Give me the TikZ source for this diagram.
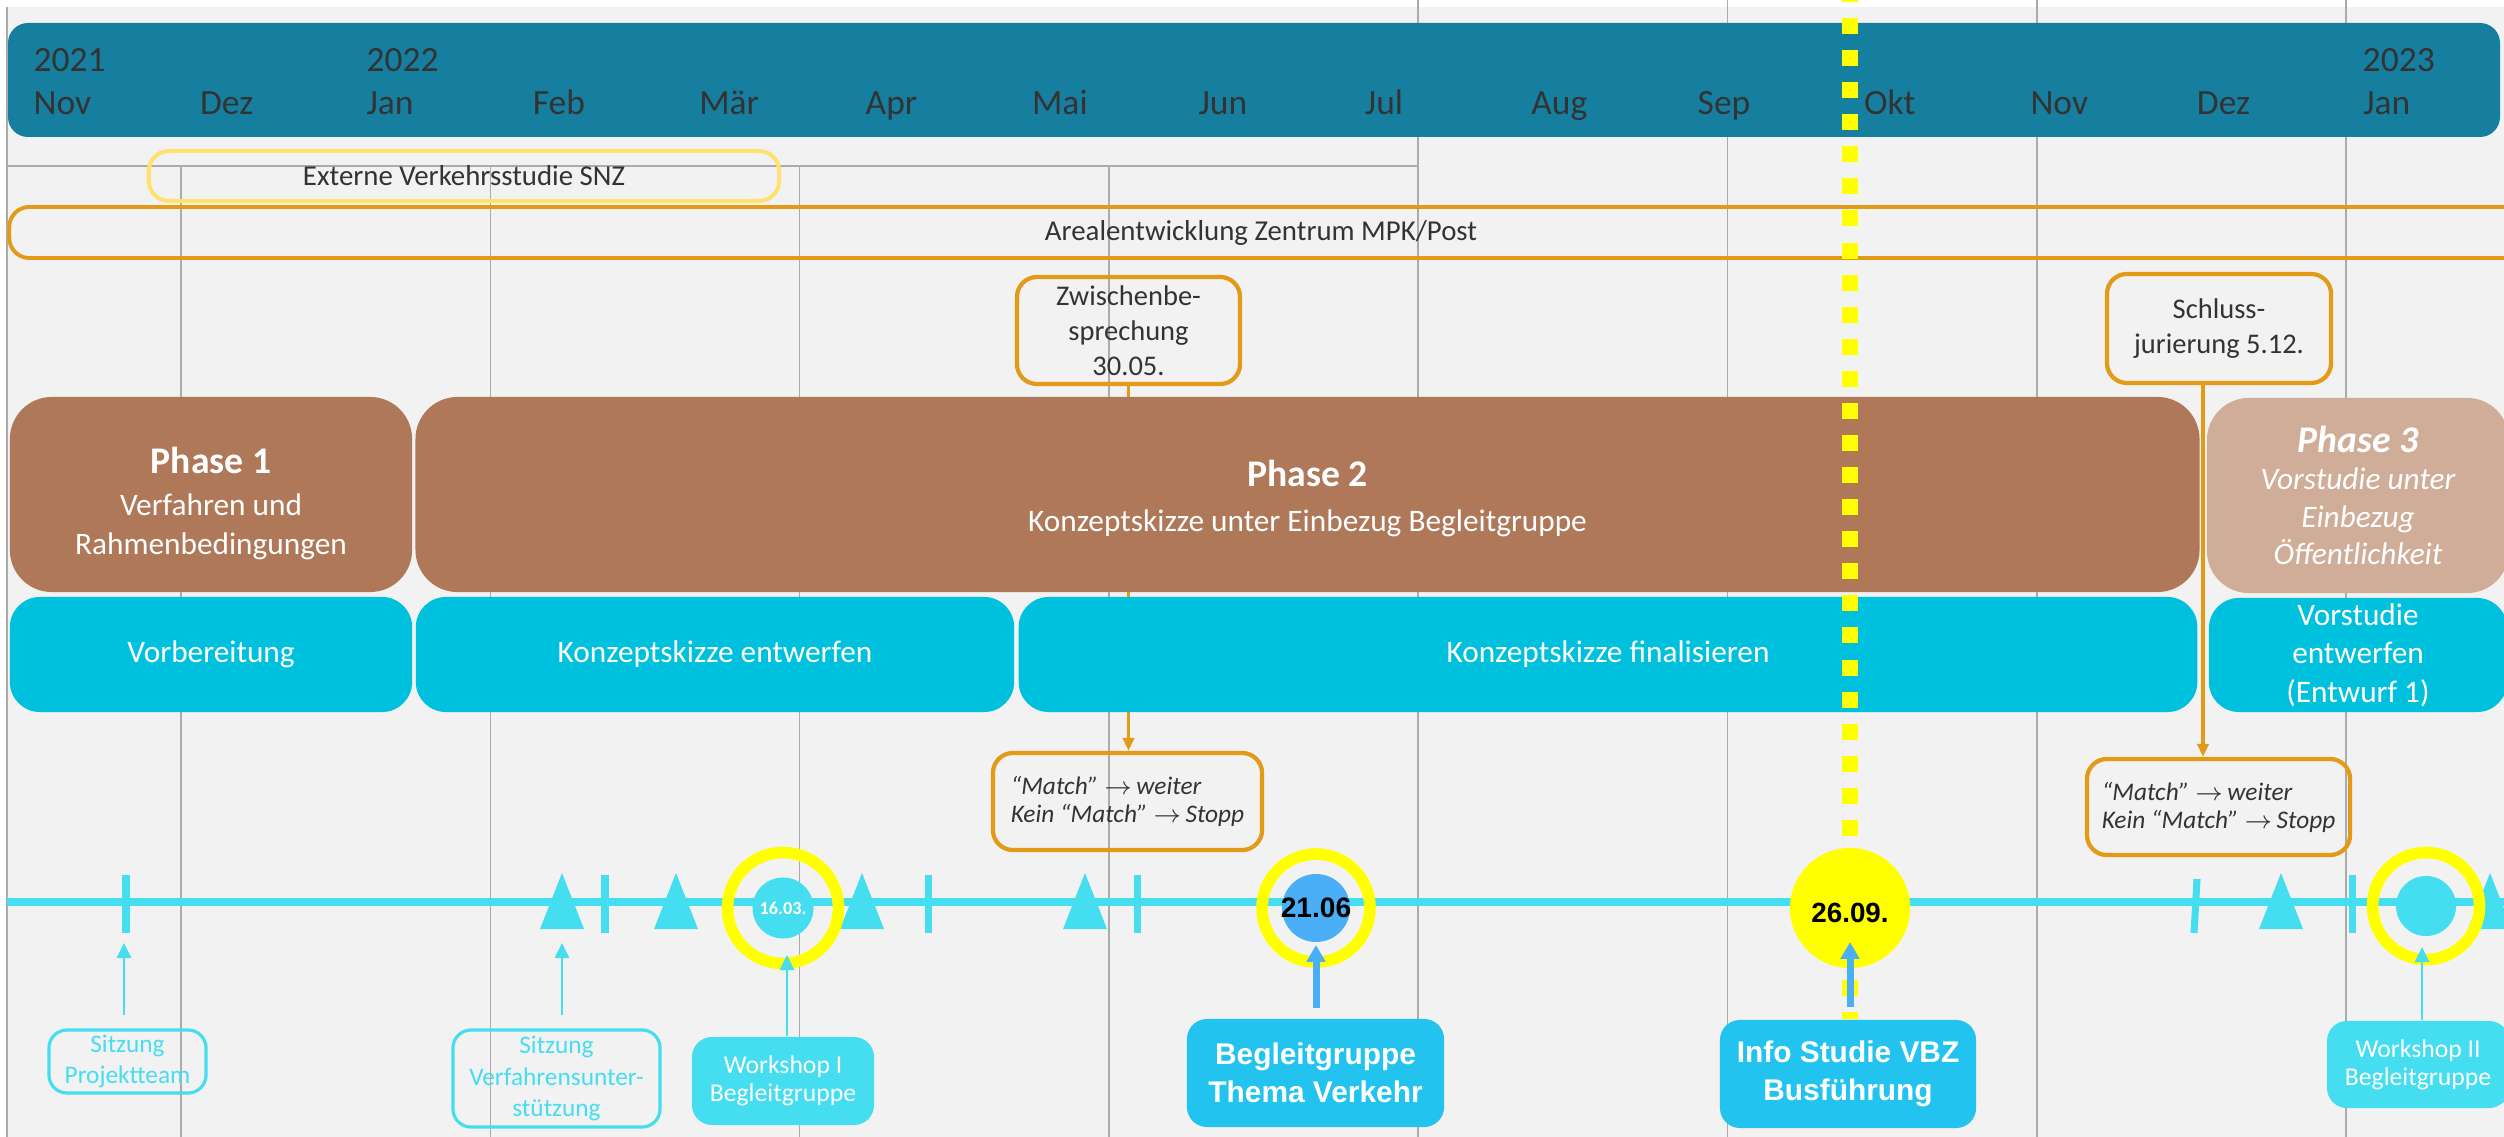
\documentclass[tikz,border=0pt]{standalone}
\usepackage{fontspec}
\setmainfont{Carlito}
\newfontfamily\arialfont{Liberation Sans}
\usetikzlibrary{arrows.meta, positioning}
\definecolor{bgGray}{HTML}{F2F2F2}
\definecolor{gridGray}{HTML}{ABABAB}
\definecolor{headTeal}{HTML}{167FA0}
\definecolor{headText}{HTML}{333333}
\definecolor{studyYellow}{HTML}{FFE26B}
\definecolor{noteOrange}{HTML}{E39A17}
\definecolor{phaseBrown}{HTML}{AE7859}
\definecolor{phaseLight}{HTML}{D0AD99}
\definecolor{stepCyan}{HTML}{00C1DD}
\definecolor{lineCyan}{HTML}{45DDF0}
\definecolor{eventBlue}{HTML}{22C4EF}
\definecolor{arrowBlue}{HTML}{4BAFF7}
\definecolor{markYellow}{HTML}{FFFF00}
\tikzset{
  gridline/.style={draw=gridGray, line width=0.45pt},
  headlabel/.style={anchor=base west, inner sep=0pt, text=headText, font=\fontsize{10.1}{12}\selectfont},
  spanbox/.style={rounded corners=0.2cm, line width=1.1pt, text=headText, inner sep=0pt, font=\fontsize{8.2}{10}\selectfont},
  notebox/.style={draw=noteOrange, line width=1.2pt, rounded corners=0.2cm, align=center, text=headText, inner sep=0pt, font=\fontsize{8.1}{10}\selectfont},
  matchbox/.style={notebox, align=left, font=\fontsize{7.2}{8}\selectfont\itshape},
  phasebox/.style={fill=phaseBrown, rounded corners=0.42cm, text=white, align=center, inner sep=0pt, minimum height=1.95cm, font=\fontsize{8.9}{11.1}\selectfont},
  stepbox/.style={fill=stepCyan, rounded corners=0.3cm, text=white, align=center, inner sep=0pt, minimum height=1.15cm, font=\fontsize{8.9}{11}\selectfont},
  tickmark/.style={draw=lineCyan, line width=2pt},
  datedot/.style={circle, fill=lineCyan, inner sep=0pt},
  datering/.style={draw=markYellow, line width=3.3pt},
  sitzbox/.style={draw=lineCyan, line width=0.9pt, rounded corners=0.18cm, text=lineCyan, align=center, inner sep=0pt, font=\fontsize{7.2}{9}\selectfont},
  wsbox/.style={fill=lineCyan, rounded corners=0.2cm, text=white, align=center, inner sep=0pt, font=\fontsize{7.3}{8}\selectfont},
  eventbox/.style={fill=eventBlue, rounded corners=0.2cm, text=white, align=center, inner sep=0pt, font=\arialfont\bfseries\fontsize{8.5}{10.8}\selectfont},
  sitzarrow/.style={-{Triangle[length=4.3pt, width=4pt]}, lineCyan, line width=0.8pt},
  eventarrow/.style={-{Triangle[length=4.8pt, width=5.2pt]}, arrowBlue, line width=2pt},
  notearrow/.style={-{Triangle[length=3.7pt, width=3.2pt]}, noteOrange, line width=1.1pt},
  todayline/.style={markYellow, line width=4.55pt, dash pattern=on 4.55pt off 4.57pt, dash phase=3.98pt},
}
\begin{document}
\begin{tikzpicture}[x=0.01cm, y=-0.01cm]
  \useasboundingbox (0,0) rectangle (2504,1137);
  \clip (0,0) rectangle (2504,1137);
  \fill[white] (0,0) rectangle (2504,1137);
  \fill[bgGray] (7,7) rectangle (2504,1137);

  % grid
  \foreach \i in {0,...,3}
    \draw[gridline] (181+309.3*\i,166) -- (181+309.3*\i,1137);
  \foreach \i in {4,...,7}
    \draw[gridline] (181+309.3*\i,0) -- (181+309.3*\i,1137);
  \draw[gridline] (7,166) -- (1418,166);
  \draw[gridline] (7,7) -- (7,1137);

  % months
  \fill[headTeal, rounded corners=0.2cm] (8,23) rectangle (2500,137);
  \foreach \m [count=\i from 0] in {Nov,Dez,Jan,Feb,Mär,Apr,Mai,Jun,Jul,Aug,Sep,Okt,Nov,Dez,Jan}
    \node[headlabel] (m\i) at (33+166.4*\i,115) {\m};
  \node[headlabel] (y21) at (33,72) {2021};
  \node[headlabel] (y22) at (366,72) {2022};
  \node[headlabel] (y23) at (2362,72) {2023};

  \node[spanbox, draw=studyYellow, minimum width=6.3cm, minimum height=0.5cm] (snz) at (464,176) {Externe Verkehrsstudie SNZ};
  \node[spanbox, draw=noteOrange, minimum width=25.3cm, minimum height=0.51cm] (areal) at (1275,232.5) {\hspace*{-0.28cm}Arealentwicklung Zentrum MPK/Post};

  % notes and decisions
  \node[notebox, minimum width=2.23cm, minimum height=1.07cm] (zwischen) at (1128.5,330.5) {Zwischenbe-\\sprechung\\30.05.};
  \node[notebox, minimum width=2.24cm, minimum height=1.09cm] (schluss) at (2219,328.5) {Schluss-\\jurierung 5.12.};
  \node[matchbox, minimum width=2.69cm, minimum height=0.97cm] (match1) at (1127.5,801.5) {“Match” $\rightarrow$\,weiter\\Kein “Match” $\rightarrow$\,Stopp};
  \node[matchbox, minimum width=2.63cm, minimum height=0.96cm] (match2) at (2218.5,807) {“Match” $\rightarrow$\,weiter\\Kein “Match” $\rightarrow$\,Stopp};
  \coordinate (jury) at (2203,0);
  \draw[notearrow] (zwischen.south) -- (zwischen.south |- match1.north);
  \draw[notearrow] (schluss.south -| jury) -- (match2.north -| jury);

  % phases
  \node[phasebox, minimum width=4.02cm] (phase1) at (211,494.5)
    {{\fontsize{10.7}{13}\selectfont\bfseries\rule{0pt}{12.6pt}Phase 1}\\[0.6pt]Verfahren und\\Rahmenbedingungen};
  \node[phasebox, minimum width=17.83cm] (phase2) at (1307.5,494.5)
    {{\fontsize{10.7}{13}\selectfont\bfseries\rule{0pt}{9.5pt}Phase 2}\\[1.7pt]Konzeptskizze unter Einbezug Begleitgruppe};
  \node[phasebox, fill=phaseLight, minimum width=3.02cm, font=\fontsize{8.9}{10.6}\selectfont\itshape] (phase3) at (2358,495.5)
    {{\fontsize{10.7}{13}\selectfont\bfseries Phase 3}\\Vorstudie unter\\Einbezug\\Öffentlichkeit};

  \node[stepbox, minimum width=4.02cm] (vorb) at (211,654.5) {Vorbereitung};
  \node[stepbox, minimum width=5.98cm] (kentw) at (715,654.5) {Konzeptskizze entwerfen};
  \node[stepbox, minimum width=11.78cm] (kfin) at (1608,654.5) {Konzeptskizze finalisieren};
  \node[stepbox, minimum width=2.98cm, minimum height=1.14cm] (vorst) at (2358,655) {Vorstudie\\entwerfen\\(Entwurf 1)};

  % timeline
  \draw[lineCyan, line width=2.3pt] (7,902) -- (2504,902);
  \foreach \x in {126,605,928,1137,2352}
    \draw[tickmark] (\x,875) -- (\x,933);
  \draw[tickmark] (2197,879) -- (2194,933);
  \foreach \x in {562,676,862,1085,2281,2490}
    \fill[lineCyan] (\x-22,929) -- (\x,873) -- (\x+22,929) -- cycle;

  % meetings
  \node[sitzbox, minimum width=1.57cm, minimum height=0.63cm] (sitzPT) at (127.5,1061.5) {Sitzung\\Projektteam};
  \node[sitzbox, minimum width=2.07cm, minimum height=0.97cm] (sitzVU) at (556.5,1078.5) {Sitzung\\Verfahrensunter-\\stützung};
  \node[wsbox, minimum width=1.82cm, minimum height=0.88cm] (ws1) at (783,1081) {Workshop I\\Begleitgruppe};
  \node[eventbox, minimum width=2.57cm, minimum height=1.08cm] (bgtv) at (1315.5,1073) {Begleitgruppe\\Thema Verkehr};
  \node[eventbox, minimum width=2.56cm, minimum height=1.08cm] (info) at (1848,1074) {Info Studie VBZ\\Busführung};
  \node[wsbox, minimum width=1.82cm, minimum height=0.87cm] (ws2) at (2418,1064.5) {Workshop II\\Begleitgruppe};

  \coordinate (todaytop) at (1850,0);
  \draw[todayline] (todaytop) -- (info.north -| todaytop);

  % dates
  \node[datedot, minimum size=0.61cm, label={[text=white, font=\fontsize{5.2}{6}\selectfont\bfseries]center:16.03.}] (d1603) at (783,908) {};
  \draw[datering] (d1603) circle (55.5);
  \node[datedot, fill=arrowBlue, minimum size=0.68cm, label={[font=\arialfont\bfseries\fontsize{8}{9}\selectfont]center:21.06}] (d2106) at (1316,908) {};
  \draw[datering] (d2106) circle (54);
  \node[datedot, fill=markYellow, minimum size=1.2cm, label={[font=\arialfont\bfseries\fontsize{7.9}{9}\selectfont, yshift=-0.05cm]center:26.09.}] (d2609) at (1850,908) {};
  \node[datedot, minimum size=0.6cm] (d0123) at (2426,906) {};
  \draw[datering] (d0123) circle (53.5);

  \coordinate (tPT) at (124,943);
  \coordinate (tVU) at (562,943);
  \coordinate (tWS1) at (787,955);
  \coordinate (tBG) at (1316,945);
  \coordinate (tInfo) at (1850,942);
  \coordinate (tWS2) at (2422,947);
  \draw[sitzarrow, shorten <=0.13cm] (sitzPT.north -| tPT) -- (tPT);
  \draw[sitzarrow, shorten <=0.13cm] (sitzVU.north -| tVU) -- (tVU);
  \draw[sitzarrow] (ws1.north -| tWS1) -- (tWS1);
  \draw[eventarrow, shorten <=0.1cm] (bgtv.north -| tBG) -- (tBG);
  \draw[eventarrow, shorten <=0.12cm] (info.north -| tInfo) -- (tInfo);
  \draw[sitzarrow] (ws2.north -| tWS2) -- (tWS2);
\end{tikzpicture}
\end{document}
